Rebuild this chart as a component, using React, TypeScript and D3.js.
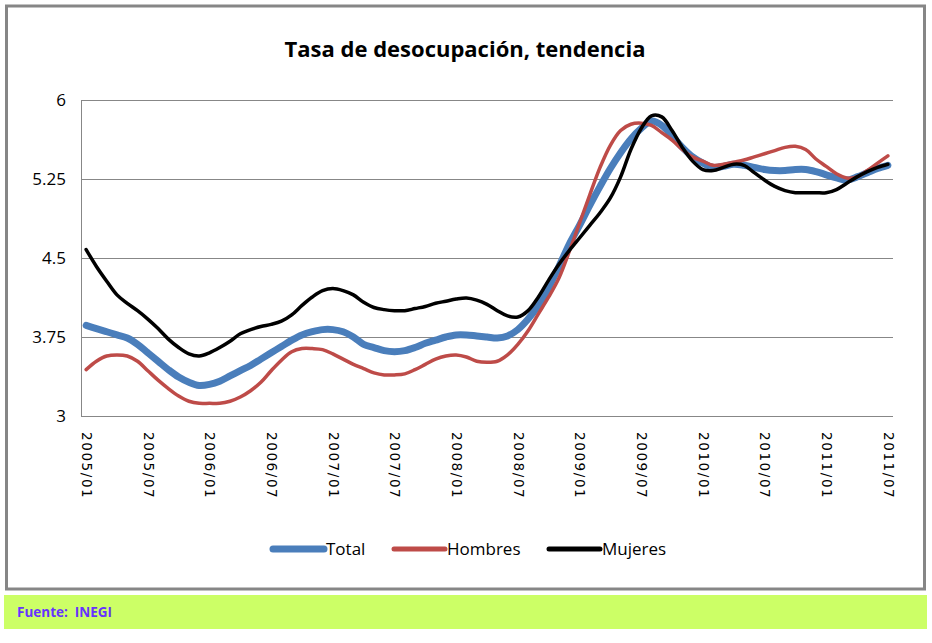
import React, { useEffect, useRef } from 'react';
import * as d3 from 'd3';

// monthly periods, 2005/01 .. 2011/07
const months: string[] = [];
for (let y = 2005; y <= 2011; y++) {
  for (let m = 1; m <= 12; m++) {
    if (y === 2011 && m > 7) break;
    months.push(`${y}/${String(m).padStart(2, '0')}`);
  }
}

const tickLabels = [
  '2005/01', '2005/07', '2006/01', '2006/07', '2007/01', '2007/07', '2008/01',
  '2008/07', '2009/01', '2009/07', '2010/01', '2010/07', '2011/01', '2011/07',
];

const yTicks = [3, 3.75, 4.5, 5.25, 6];

const total = [
  3.86, 3.83, 3.80, 3.77, 3.74, 3.68, 3.60, 3.52, 3.44, 3.37, 3.32, 3.29,
  3.30, 3.33, 3.38, 3.43, 3.48, 3.54, 3.60, 3.66, 3.72, 3.77, 3.80, 3.82,
  3.82, 3.80, 3.75, 3.68, 3.65, 3.62, 3.61, 3.62, 3.65, 3.69, 3.72, 3.75,
  3.77, 3.77, 3.76, 3.75, 3.74, 3.76, 3.82, 3.92, 4.05, 4.22, 4.42, 4.63,
  4.81, 5.00, 5.18, 5.35, 5.50, 5.63, 5.73, 5.80, 5.76, 5.66, 5.55, 5.46,
  5.40, 5.36, 5.37, 5.39, 5.38, 5.36, 5.34, 5.33, 5.33, 5.34, 5.34, 5.32,
  5.29, 5.26, 5.24, 5.27, 5.31, 5.35, 5.38,
];

const hombres = [
  3.44, 3.52, 3.57, 3.58, 3.57, 3.52, 3.43, 3.34, 3.26, 3.19, 3.14, 3.12,
  3.12, 3.12, 3.14, 3.18, 3.24, 3.32, 3.43, 3.53, 3.61, 3.64, 3.64, 3.63,
  3.59, 3.54, 3.49, 3.45, 3.41, 3.39, 3.39, 3.40, 3.44, 3.49, 3.54, 3.57,
  3.58, 3.56, 3.52, 3.51, 3.52, 3.58, 3.68, 3.81, 3.97, 4.13, 4.31, 4.56,
  4.83, 5.10, 5.36, 5.57, 5.71, 5.77, 5.78, 5.76, 5.69, 5.62, 5.53, 5.46,
  5.42, 5.38, 5.39, 5.41, 5.43, 5.46, 5.49, 5.52, 5.55, 5.56, 5.53, 5.44,
  5.37, 5.30, 5.26, 5.27, 5.33, 5.40, 5.47,
];

const mujeres = [
  4.58, 4.42, 4.28, 4.15, 4.07, 4.00, 3.92, 3.83, 3.73, 3.65, 3.59, 3.57,
  3.60, 3.65, 3.71, 3.78, 3.82, 3.85, 3.87, 3.90, 3.96, 4.05, 4.13, 4.19,
  4.21, 4.19, 4.15, 4.08, 4.03, 4.01, 4.00, 4.00, 4.02, 4.04, 4.07, 4.09,
  4.11, 4.12, 4.10, 4.06, 4.00, 3.95, 3.94, 4.00, 4.13, 4.29, 4.44, 4.57,
  4.69, 4.81, 4.93, 5.07, 5.27, 5.53, 5.73, 5.85, 5.84, 5.71, 5.55, 5.42,
  5.34, 5.33, 5.36, 5.39, 5.38, 5.31, 5.24, 5.18, 5.14, 5.12, 5.12, 5.12,
  5.12, 5.15, 5.21, 5.27, 5.32, 5.36, 5.39,
];

const seriesNames = ['Total', 'Hombres', 'Mujeres'];
const seriesColors = ['#4a7ebb', '#be4b48', '#000000'];
const seriesWidths = [7, 3.5, 3.5];

const App = () => {
  const svgRef = useRef<SVGSVGElement>(null);
  const width = 932;
  const height = 643;
  const plot = { left: 81, right: 893, top: 100, bottom: 416 };

  useEffect(() => {
    const svg = d3.select(svgRef.current);
    svg.selectAll('*').remove();

    svg.append('rect').attr('width', width).attr('height', height).attr('fill', '#fff');

    // outer frame
    svg.append('rect')
      .attr('x', 6.5).attr('y', 6).attr('width', 918).attr('height', 583)
      .attr('fill', '#fff').attr('stroke', '#868686').attr('stroke-width', 3);

    // source strip
    svg.append('rect')
      .attr('x', 4).attr('y', 595).attr('width', 923).attr('height', 34)
      .attr('fill', '#ccff66');
    svg.append('text')
      .attr('x', 17).attr('y', 617)
      .attr('font-family', 'Open Sans, sans-serif').attr('font-weight', 'bold')
      .attr('font-size', 13.5).attr('fill', '#6633ff')
      .attr('xml:space', 'preserve')
      .text('Fuente:  INEGI');

    svg.append('text')
      .attr('x', 465).attr('y', 57)
      .attr('text-anchor', 'middle')
      .attr('font-family', 'Open Sans, sans-serif').attr('font-weight', 'bold')
      .attr('font-size', 22).attr('fill', '#000')
      .text('Tasa de desocupación, tendencia');

    const x = d3.scalePoint<string>()
      .domain(months)
      .range([plot.left, plot.right])
      .padding(0.5);

    const y = d3.scaleLinear()
      .domain([3, 6])
      .range([plot.bottom, plot.top]);

    // y axis with gridlines
    svg.append('g')
      .attr('transform', `translate(${plot.left},0)`)
      .call(d3.axisLeft(y).tickValues(yTicks).tickSize(0).tickPadding(15).tickFormat(d => String(d)))
      .call(g => g.select('.domain').attr('stroke', '#878787'))
      .call(g => g.selectAll('.tick line').clone()
        .attr('stroke', '#878787')
        .attr('x2', plot.right - plot.left))
      .call(g => g.selectAll('.tick text')
        .attr('font-family', 'Open Sans, sans-serif')
        .attr('font-size', 17).attr('fill', '#000'));

    // x axis, rotated labels
    svg.append('g')
      .attr('transform', `translate(0,${plot.bottom})`)
      .call(d3.axisBottom(x).tickValues(tickLabels).tickSize(0).tickFormat(d => d))
      .call(g => g.select('.domain').remove())
      .call(g => g.selectAll('.tick text')
        .attr('transform', 'rotate(90)')
        .attr('x', 16).attr('y', 0).attr('dy', '0.35em')
        .attr('text-anchor', 'start')
        .attr('font-family', 'DejaVu Sans, sans-serif')
        .attr('font-size', 13.5).attr('letter-spacing', 1.6).attr('fill', '#000'));

    const line = d3.line<number>()
      .x((_, i) => x(months[i]) as number)
      .y(d => y(d))
      .curve(d3.curveCatmullRom.alpha(0.5));

    [total, hombres, mujeres].forEach((vals, k) => {
      svg.append('path')
        .datum(vals)
        .attr('d', line)
        .attr('fill', 'none')
        .attr('stroke', seriesColors[k])
        .attr('stroke-width', seriesWidths[k])
        .attr('stroke-linejoin', 'round')
        .attr('stroke-linecap', 'round');
    });

    // legend
    const legendX = [273, 394, 549];
    const legend = svg.append('g');
    seriesNames.forEach((name, k) => {
      legend.append('line')
        .attr('x1', legendX[k]).attr('x2', legendX[k] + 51)
        .attr('y1', 549).attr('y2', 549)
        .attr('stroke', seriesColors[k])
        .attr('stroke-width', k === 0 ? 7 : 5)
        .attr('stroke-linecap', 'round');
      legend.append('text')
        .attr('x', legendX[k] + 53).attr('y', 555)
        .attr('font-family', 'Open Sans, sans-serif')
        .attr('font-size', 17).attr('fill', '#000')
        .text(name);
    });
  }, []);

  return (
    <svg ref={svgRef} width={width} height={height}
      style={{ position: 'absolute', left: 0, top: 0 }} />
  );
};

export default App;
